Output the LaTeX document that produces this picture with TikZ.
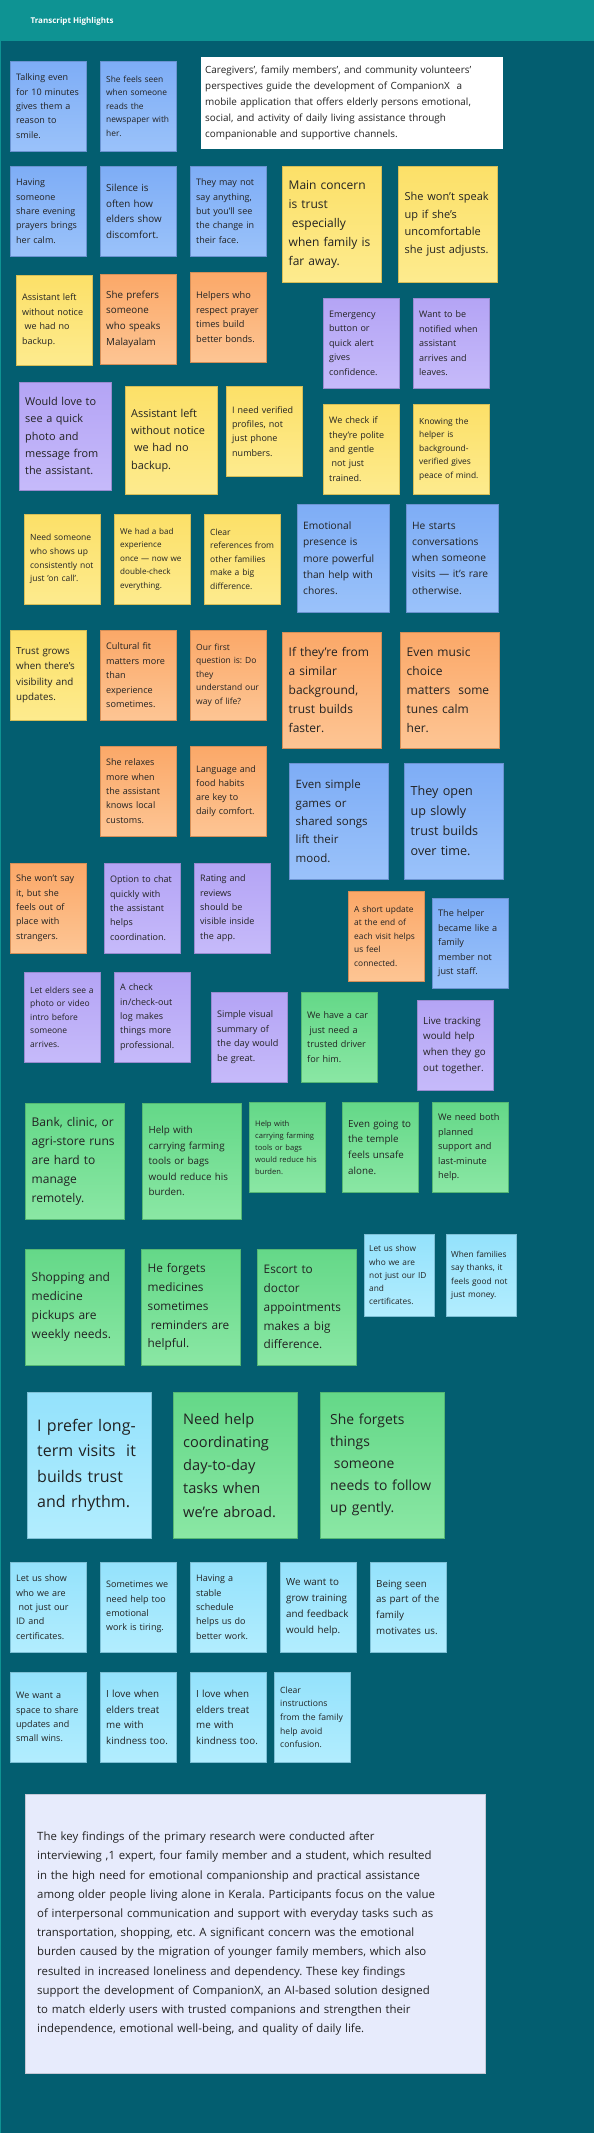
\documentclass[tikz,border=0pt]{standalone}
\usepackage{fontspec}
\setmainfont{Open Sans}
\usepackage{xcolor}
\definecolor{bgTeal}{RGB}{3,94,112}
\definecolor{hdrTeal}{RGB}{14,147,147}
\definecolor{nBlueT}{RGB}{126,173,246}
\definecolor{nBlueB}{RGB}{154,194,250}
\definecolor{nYelT}{RGB}{252,224,104}
\definecolor{nYelB}{RGB}{253,235,142}
\definecolor{nOrT}{RGB}{251,168,104}
\definecolor{nOrB}{RGB}{253,197,148}
\definecolor{nPurT}{RGB}{180,164,245}
\definecolor{nPurB}{RGB}{198,186,250}
\definecolor{nGrnT}{RGB}{100,216,136}
\definecolor{nGrnB}{RGB}{138,231,164}
\definecolor{nCyT}{RGB}{148,226,252}
\definecolor{nCyB}{RGB}{178,237,254}
\definecolor{sumBox}{RGB}{231,235,252}
\definecolor{ink}{RGB}{34,34,34}
\newcommand{\indsp}{\hspace*{.27em}}
\frenchspacing

\begin{document}
\begin{tikzpicture}[x=1pt, y=-1pt,
    note/.style={anchor=north west, align=left, inner xsep=6pt, inner ysep=0pt, text=ink},
    fs/.style 2 args={font=\fontsize{#1}{#2}\selectfont},
    smallnote/.style={note, minimum width=76, minimum height=90, text width=64},
    midnote/.style={note, minimum width=92, minimum height=108, text width=80},
    bignote/.style={note, minimum width=99, minimum height=116, text width=86, inner xsep=6.5pt},
    tinynote/.style={note, minimum width=70, minimum height=82, text width=60, inner xsep=5pt},
    hugenote/.style={note, minimum width=124, minimum height=146, text width=104, inner xsep=10pt},
    bluenote/.style={top color=nBlueT, bottom color=nBlueB, draw=nBlueT!85!black, line width=.4pt},
    yellownote/.style={top color=nYelT, bottom color=nYelB, draw=nYelT!85!black, line width=.4pt},
    orangenote/.style={top color=nOrT, bottom color=nOrB, draw=nOrT!85!black, line width=.4pt},
    purplenote/.style={top color=nPurT, bottom color=nPurB, draw=nPurT!85!black, line width=.4pt},
    greennote/.style={top color=nGrnT, bottom color=nGrnB, draw=nGrnT!85!black, line width=.4pt},
    cyannote/.style={top color=nCyT, bottom color=nCyB, draw=nCyT!85!black, line width=.4pt}]

    \useasboundingbox (0,0) rectangle (594,2133);
    \fill[bgTeal] (0,0) rectangle (594,2133);
    \fill[hdrTeal] (0,0) rectangle (594,41);
    \draw[hdrTeal, line width=1.5pt] (0,41) -- (0,2133);
    \node[anchor=west, text=white, font=\bfseries\fontsize{8}{10}\selectfont] (title) at (27,21) {Transcript Highlights};

    \node[smallnote, bluenote, fs={9}{14.3}] (talking) at (10,61) {Talking even\\for 10 minutes\\gives them a\\reason to\\smile.};
    \node[smallnote, bluenote, fs={8.4}{13.5}] (newspaper) at (100,61) {She feels seen\\when someone\\reads the\\newspaper with\\her.};
    \node[note, fill=white, minimum width=302, minimum height=92, text width=294, inner xsep=4pt, fs={9.9}{16}] (intro) at (201,57) {Caregivers', family members', and community volunteers'\\perspectives guide the development of CompanionX\ \ a\\mobile application that offers elderly persons emotional,\\social, and activity of daily living assistance through\\companionable and supportive channels.};

    \node[smallnote, bluenote, fs={9}{14.4}] (prayers) at (10,166) {Having\\someone\\share evening\\prayers brings\\her calm.};
    \node[smallnote, bluenote, fs={9.8}{15.7}] (silence) at (100,166) {Silence is\\often how\\elders show\\discomfort.};
    \node[smallnote, bluenote, fs={9}{14.4}] (face) at (190,166) {They may not\\say anything,\\but you'll see\\the change in\\their face.};
    \node[bignote, yellownote, fs={12}{19}] (concern) at (282,166) {Main concern\\is trust\\\indsp especially\\when family is\\far away.};
    \node[bignote, yellownote, fs={11}{17.6}] (wontspeak) at (398,166) {She won’t speak\\up if she’s\\uncomfortable\\she just adjusts.};

    \node[smallnote, yellownote, fs={9}{14.4}] (leftA) at (16,275) {Assistant left\\without notice\\\indsp we had no\\backup.};
    \node[smallnote, orangenote, fs={9.8}{15.8}] (malayalam) at (100,274) {She prefers\\someone\\who speaks\\Malayalam};
    \node[smallnote, orangenote, fs={9.2}{14.7}] (prayertimes) at (190,272) {Helpers who\\respect prayer\\times build\\better bonds.};
    \node[smallnote, purplenote, fs={9}{14.5}] (emergency) at (323,298) {Emergency\\button or\\quick alert\\gives\\confidence.};
    \node[smallnote, purplenote, fs={9}{14.5}] (notified) at (413,298) {Want to be\\notified when\\assistant\\arrives and\\leaves.};

    \node[midnote, purplenote, fs={10.9}{17.3}] (photo) at (19,382) {Would love to\\see a quick\\photo and\\message from\\the assistant.};
    \node[midnote, yellownote, fs={10.9}{17.3}] (leftB) at (125,386) {Assistant left\\without notice\\\indsp we had no\\backup.};
    \node[smallnote, yellownote, fs={9}{14.3}] (verified) at (226,386) {I need verified\\profiles, not\\just phone\\numbers.};
    \node[smallnote, yellownote, fs={9}{14.4}] (polite) at (323,404) {We check if\\they’re polite\\and gentle\\\indsp not just\\trained.};
    \node[smallnote, yellownote, fs={8.4}{13.4}] (background) at (413,404) {Knowing the\\helper is\\background-\\verified gives\\peace of mind.};

    \node[smallnote, yellownote, fs={8.5}{13.7}] (oncall) at (24,514) {Need someone\\who shows up\\consistently not\\just 'on call'.};
    \node[smallnote, yellownote, fs={8.1}{13.5}] (badexp) at (114,514) {We had a bad\\experience\\once — now we\\double-check\\everything.};
    \node[smallnote, yellownote, fs={8.5}{13.5}] (references) at (204,514) {Clear\\references from\\other families\\make a big\\difference.};
    \node[midnote, bluenote, fs={10.2}{16.2}] (presence) at (297,504) {Emotional\\presence is\\more powerful\\than help with\\chores.};
    \node[midnote, bluenote, fs={10.2}{16.2}] (conversations) at (406,504) {He starts\\conversations\\when someone\\visits — it's rare\\otherwise.};

    \node[smallnote, yellownote, fs={9.8}{15.6}] (visibility) at (10,630) {Trust grows\\when there’s\\visibility and\\updates.};
    \node[smallnote, orangenote, fs={9.1}{14.5}] (culturalfit) at (100,630) {Cultural fit\\matters more\\than\\experience\\sometimes.};
    \node[smallnote, orangenote, fs={8.5}{13.5}] (wayoflife) at (190,630) {Our first\\question is: Do\\they\\understand our\\way of life?};
    \node[bignote, orangenote, fs={12}{19}] (similar) at (282,632) {If they’re from\\a similar\\background,\\trust builds\\faster.};
    \node[bignote, orangenote, fs={12}{19}] (music) at (400,632) {Even music\\choice\\matters\ \ some\\tunes calm\\her.};

    \node[smallnote, orangenote, fs={9}{14.3}] (customs) at (100,746) {She relaxes\\more when\\the assistant\\knows local\\customs.};
    \node[smallnote, orangenote, fs={9}{14.3}] (food) at (190,746) {Language and\\food habits\\are key to\\daily comfort.};
    \node[bignote, bluenote, fs={11.5}{18.3}] (games) at (289,763) {Even simple\\games or\\shared songs\\lift their\\mood.};
    \node[bignote, bluenote, fs={12.6}{20}] (openup) at (404,763) {They open\\up slowly\\trust builds\\over time.};

    \node[smallnote, orangenote, fs={9}{14.3}] (strangers) at (10,863) {She won’t say\\it, but she\\feels out of\\place with\\strangers.};
    \node[smallnote, purplenote, fs={9}{14.4}] (chat) at (104,863) {Option to chat\\quickly with\\the assistant\\helps\\coordination.};
    \node[smallnote, purplenote, fs={9}{14.4}] (rating) at (194,863) {Rating and\\reviews\\should be\\visible inside\\the app.};
    \node[smallnote, orangenote, fs={8.4}{13.4}] (shortupdate) at (348,891) {A short update\\at the end of\\each visit helps\\us feel\\connected.};
    \node[smallnote, bluenote, fs={9.1}{14.5}] (familylike) at (432,898) {The helper\\became like a\\family\\member not\\just staff.};

    \node[smallnote, purplenote, fs={8.5}{13.6}] (videointro) at (24,972) {Let elders see a\\photo or video\\intro before\\someone\\arrives.};
    \node[smallnote, purplenote, fs={9}{14.4}] (checkin) at (114,972) {A check\\in/check-out\\log makes\\things more\\professional.};
    \node[smallnote, purplenote, fs={9.1}{14.5}] (summaryday) at (211,992) {Simple visual\\summary of\\the day would\\be great.};
    \node[smallnote, greennote, fs={9.1}{14.5}] (driver) at (301,992) {We have a car\\\indsp just need a\\trusted driver\\for him.};
    \node[smallnote, purplenote, fs={9.8}{15.7}] (tracking) at (417,1000) {Live tracking\\would help\\when they go\\out together.};

    \node[bignote, greennote, fs={12}{19}] (bank) at (25,1103) {Bank, clinic, or\\agri-store runs\\are hard to\\manage\\remotely.};
    \node[bignote, greennote, fs={9.8}{15.5}] (farmingA) at (142,1103) {Help with\\carrying farming\\tools or bags\\would reduce his\\burden.};
    \node[smallnote, greennote, fs={7.6}{12}] (farmingB) at (249,1102) {Help with\\carrying farming\\tools or bags\\would reduce his\\burden.};
    \node[smallnote, greennote, fs={9.8}{15.7}] (temple) at (342,1102) {Even going to\\the temple\\feels unsafe\\alone.};
    \node[smallnote, greennote, fs={9.2}{14.6}] (lastminute) at (432,1102) {We need both\\planned\\support and\\last-minute\\help.};

    \node[bignote, greennote, fs={12}{19}] (shopping) at (25,1249) {Shopping and\\medicine\\pickups are\\weekly needs.};
    \node[bignote, greennote, fs={11.8}{18.8}] (medicines) at (141,1249) {He forgets\\medicines\\sometimes\\\indsp reminders are\\helpful.};
    \node[bignote, greennote, fs={11.8}{18.8}] (escort) at (257,1249) {Escort to\\doctor\\appointments\\makes a big\\difference.};
    \node[tinynote, cyannote, fs={8.3}{13.2}] (showidA) at (364,1234) {Let us show\\who we are\\not just our ID\\and\\certificates.};
    \node[tinynote, cyannote, fs={8.3}{13.3}] (thanks) at (446,1234) {When families\\say thanks, it\\feels good not\\just money.};

    \node[hugenote, cyannote, fs={16}{25.6}] (longterm) at (27,1392) {I prefer long-\\term visits\ \ it\\builds trust\\and rhythm.};
    \node[hugenote, greennote, fs={14.6}{23.2}] (abroad) at (173,1392) {Need help\\coordinating\\day-to-day\\tasks when\\we’re abroad.};
    \node[hugenote, greennote, fs={13.9}{22}] (followup) at (320,1392) {She forgets\\things\\\indsp someone\\needs to follow\\up gently.};

    \node[smallnote, cyannote, fs={9}{14.4}] (showidB) at (10,1562) {Let us show\\who we are\\\indsp not just our\\ID and\\certificates.};
    \node[smallnote, cyannote, fs={9}{14.3}] (tiring) at (100,1562) {Sometimes we\\need help too\\emotional\\work is tiring.};
    \node[smallnote, cyannote, fs={9}{14.4}] (schedule) at (190,1562) {Having a\\stable\\schedule\\helps us do\\better work.};
    \node[smallnote, cyannote, fs={9.8}{15.7}] (training) at (280,1562) {We want to\\grow training\\and feedback\\would help.};
    \node[smallnote, cyannote, fs={9.8}{15.7}] (partoffamily) at (370,1562) {Being seen\\as part of the\\family\\motivates us.};

    \node[smallnote, cyannote, fs={9}{14.4}] (smallwins) at (10,1672) {We want a\\space to share\\updates and\\small wins.};
    \node[smallnote, cyannote, fs={9.8}{15.7}] (kindnessA) at (100,1672) {I love when\\elders treat\\me with\\kindness too.};
    \node[smallnote, cyannote, fs={9.8}{15.7}] (kindnessB) at (190,1672) {I love when\\elders treat\\me with\\kindness too.};
    \node[smallnote, cyannote, fs={8.6}{13.7}] (instructions) at (274,1672) {Clear\\instructions\\from the family\\help avoid\\confusion.};

    \node[note, fill=sumBox, draw=sumBox!85!black, line width=.4pt, minimum width=460, minimum height=279, text width=436, inner xsep=12pt, fs={11.4}{19.2}] (findings) at (25,1794) {The key findings of the primary research were conducted after\\interviewing ,1 expert, four family member and a student, which resulted\\in the high need for emotional companionship and practical assistance\\among older people living alone in Kerala. Participants focus on the value\\of interpersonal communication and support with everyday tasks such as\\transportation, shopping, etc. A significant concern was the emotional\\burden caused by the migration of younger family members, which also\\resulted in increased loneliness and dependency. These key findings\\support the development of CompanionX, an AI-based solution designed\\to match elderly users with trusted companions and strengthen their\\independence, emotional well-being, and quality of daily life.};
\end{tikzpicture}
\end{document}
